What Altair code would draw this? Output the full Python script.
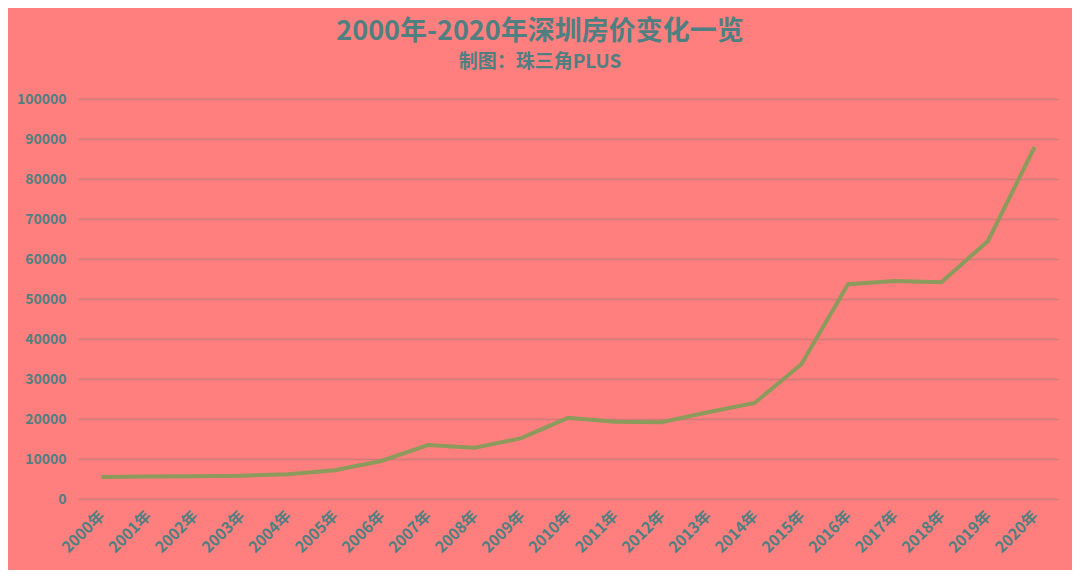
import altair as alt
import pandas as pd

years = [f"{y}年" for y in range(2000, 2021)]
prices = [5500, 5600, 5700, 5800, 6200, 7200, 9500, 13500, 12800, 15200,
          20300, 19300, 19200, 21700, 24000, 33700, 53700, 54500, 54200, 64500, 88000]

df = pd.DataFrame({"year": years, "price": prices})

FONT = "Noto Sans CJK SC"
TEXT = "#4F7F80"

chart = alt.Chart(df).mark_line(color="#8C9A5C", strokeWidth=4).encode(
    x=alt.X("year:N", sort=years, title=None,
            axis=alt.Axis(labelAngle=-45, labelAlign="right", labelBaseline="middle",
                          domain=False, ticks=False, labelPadding=14,
                          labelFont=FONT, labelFontSize=15.5, labelFontWeight="bold",
                          labelColor=TEXT, grid=False)),
    y=alt.Y("price:Q", title=None,
            scale=alt.Scale(domain=[0, 100000], nice=False),
            axis=alt.Axis(values=list(range(0, 100001, 10000)), format="d",
                          domain=False, ticks=False,
                          labelPadding=12, labelFont=FONT, labelFontSize=14,
                          labelFontWeight="bold", labelColor=TEXT,
                          grid=True, gridColor="#D07A7A", gridWidth=1.5)),
).properties(
    width=980, height=400,
    background="#FF7F7F",
    padding={"left": 70, "top": 91, "right": 14, "bottom": 71},
    autosize=alt.AutoSizeParams(type="none"),
    title=alt.TitleParams(
        text="2000年-2020年深圳房价变化一览",
        subtitle="制图：珠三角PLUS",
        font=FONT, fontSize=27, fontWeight="bold", color=TEXT,
        subtitleFont=FONT, subtitleFontSize=19, subtitleFontWeight="bold",
        subtitleColor=TEXT, subtitlePadding=7,
        anchor="middle", frame="group", dx=-28, offset=19,
    ),
).configure_view(stroke=None)

chart.save("out.html", embed_options={"renderer": "svg", "actions": False})
